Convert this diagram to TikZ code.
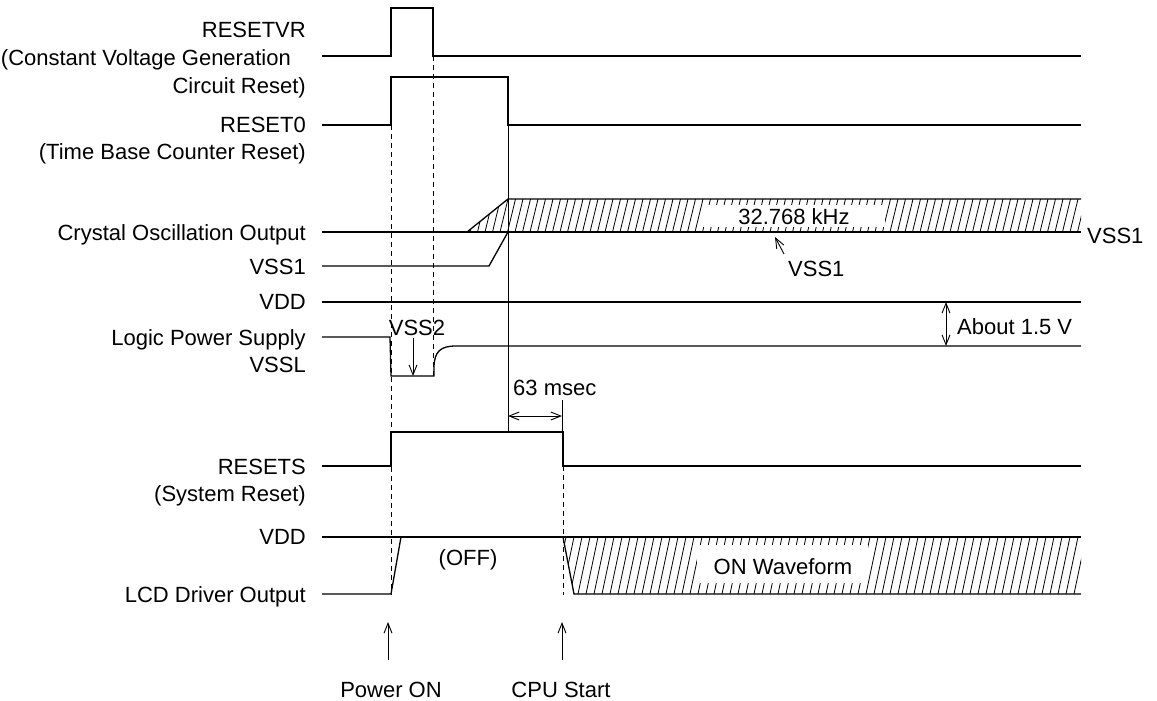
\documentclass[tikz,border=0pt]{standalone}
\usepackage{fontspec}
\setmainfont{Liberation Sans}
\usetikzlibrary{arrows.meta}
\begin{document}
\begin{tikzpicture}[x=1pt,y=-1pt,
  sig/.style={line width=1.3pt, line join=miter},
  thinl/.style={line width=0.9pt},
  dashv/.style={line width=0.9pt, dash pattern=on 5pt off 4pt},
  hatch/.style={line width=0.8pt},
  lbl/.style={anchor=base east, inner sep=0pt, font=\fontsize{22}{26}\selectfont},
  txt/.style={inner sep=0pt, font=\fontsize{22}{26}\selectfont},
  arr/.style={line width=0.9pt, -{Straight Barb[length=10pt,width=8pt,line width=0.9pt]}},
  darr/.style={line width=0.9pt, {Straight Barb[length=10pt,width=8pt,line width=0.9pt]}-{Straight Barb[length=10pt,width=8pt,line width=0.9pt]}},
]
\useasboundingbox (0,0) rectangle (1157,701);

% ---- hatched bands ----
\begin{scope}
\clip (467,232) -- (508,199) -- (1081,199) -- (1081,232) -- cycle;
\foreach \x in {440,447.5,...,1090} \draw[hatch] (\x,232) -- (\x+8,199);
\end{scope}
\fill[white] (703,205) rectangle (885,227);
\begin{scope}
\clip (563,537) -- (1081,537) -- (1081,594) -- (574,594) -- cycle;
\foreach \x in {530,538,...,1090} \draw[hatch] (\x,594) -- (\x+12,537);
\end{scope}
\fill[white] (697,545) rectangle (868,583);

% ---- left labels ----
\node[lbl] (l1) at (306,38) {RESETVR};
\node[lbl] (l2) at (291,66) {(Constant Voltage Generation};
\node[lbl] (l3) at (306,93) {Circuit Reset)};
\node[lbl] (l4) at (306,132) {RESET0};
\node[lbl] (l5) at (306,159) {(Time Base Counter Reset)};
\node[lbl] (l6) at (306,240) {Crystal Oscillation Output};
\node[lbl] (l7) at (306,274) {VSS1};
\node[lbl] (l8) at (306,309) {VDD};
\node[lbl] (l9) at (306,345) {Logic Power Supply};
\node[lbl] (l10) at (306,372) {VSSL};
\node[lbl] (l11) at (306,474) {RESETS};
\node[lbl] (l12) at (306,501) {(System Reset)};
\node[lbl] (l13) at (306,544) {VDD};
\node[lbl] (l14) at (306,602) {LCD Driver Output};

% ---- dashed guides ----
\draw[dashv] (391,125) -- (391,595);
\draw[dashv] (433,56) -- (433,376);
\draw[dashv] (563,466) -- (563,595);

% ---- signals ----
\draw[sig] (322,56) -- (391,56) -- (391,8) -- (433,8) -- (433,56) -- (1081,56);
\draw[sig] (322,125) -- (391,125) -- (391,77) -- (508,77) -- (508,125) -- (1081,125);
\draw[thinl] (508,125) -- (508,432);
\draw[sig] (322,232) -- (1081,232);
\draw[sig] (467,232) -- (508,199) -- (1081,199);
\draw[sig] (322,266) -- (489,266) -- (508,232);
\draw[sig] (322,302) -- (1081,302);
\draw[sig] (322,337) -- (390,337) -- (391,376) -- (434,376) -- (434,368) .. controls (434,351) and (441,346) .. (456,346) -- (1081,346);
\draw[sig] (322,466) -- (391,466) -- (391,432) -- (563,432) -- (563,466) -- (1081,466);
\draw[thinl] (562,400) -- (562,432);
\draw[sig] (322,537) -- (1081,537);
\draw[sig] (322,594) -- (391,594) -- (401,537);
\draw[sig] (563,537) -- (574,594) -- (1081,594);

% ---- annotations ----
\node[txt, anchor=base] (khz) at (794,224) {32.768 kHz};
\node[txt, anchor=base west] (vssa) at (788,276) {VSS1};
\coordinate (vssatail) at (784,254);
\coordinate (vssatip) at (775,237);
\draw[arr] (vssatail) -- (vssatip);
\node[txt, anchor=base west] (vssr) at (1087,243) {VSS1};
\node[txt, anchor=base] (vss2) at (417,335) {VSS2};
\coordinate (v2a) at (413,338);
\coordinate (v2b) at (413,376);
\draw[arr] (v2a) -- (v2b);
\coordinate (aba) at (946,302);
\coordinate (abb) at (946,346);
\draw[darr] (aba) -- (abb);
\node[txt, anchor=base west] (about) at (957,334) {About 1.5 V};
\node[txt, anchor=base west] (msec) at (513,395) {63 msec};
\coordinate (ma) at (508,416);
\coordinate (mb) at (562,416);
\draw[darr] (ma) -- (mb);
\node[txt, anchor=base] (off) at (468,565) {(OFF)};
\node[txt, anchor=base] (onw) at (783,574) {ON Waveform};
\coordinate (pa) at (388,660);
\coordinate (pb) at (388,622);
\draw[arr] (pa) -- (pb);
\coordinate (ca) at (562,660);
\coordinate (cb) at (562,622);
\draw[arr] (ca) -- (cb);
\node[txt, anchor=base] (pon) at (391,697) {Power ON};
\node[txt, anchor=base] (cpu) at (561,697) {CPU Start};
\end{tikzpicture}
\end{document}
